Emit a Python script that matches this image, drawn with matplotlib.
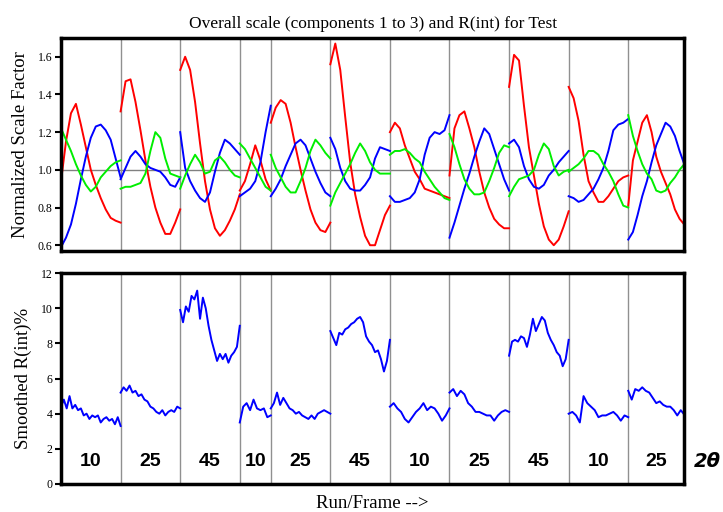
import matplotlib.pyplot as plt
import numpy as np

# frames per run (4th run is a short one)
run_frames = [100, 100, 100, 52, 100, 100, 100, 100, 100, 100, 94]
run_labels = ['10', '25', '45', '10', '25', '45', '10', '25', '45', '10', '25']

# normalized scale factors, component 1 (red), 2 (blue), 3 (green), per run
comp1 = [
    [0.94, 1.15, 1.30, 1.35, 1.24, 1.12, 1.00, 0.92, 0.85, 0.79, 0.745, 0.73, 0.72],
    [1.31, 1.47, 1.48, 1.36, 1.21, 1.05, 0.91, 0.80, 0.72, 0.66, 0.66, 0.72, 0.79],
    [1.53, 1.60, 1.53, 1.36, 1.14, 0.94, 0.79, 0.69, 0.65, 0.68, 0.73, 0.79, 0.87],
    [0.89, 0.94, 1.03, 1.13, 1.05, 0.95, 0.89],
    [1.25, 1.33, 1.37, 1.35, 1.25, 1.12, 1.00, 0.89, 0.79, 0.72, 0.68, 0.67, 0.72],
    [1.56, 1.67, 1.53, 1.28, 1.04, 0.87, 0.75, 0.65, 0.60, 0.60, 0.68, 0.76, 0.81],
    [1.20, 1.25, 1.22, 1.13, 1.06, 0.99, 0.95, 0.90, 0.89, 0.88, 0.87, 0.86, 0.85],
    [0.97, 1.22, 1.29, 1.31, 1.22, 1.12, 0.99, 0.88, 0.80, 0.74, 0.71, 0.69, 0.69],
    [1.44, 1.61, 1.58, 1.34, 1.12, 0.97, 0.82, 0.70, 0.63, 0.60, 0.63, 0.70, 0.78],
    [1.44, 1.38, 1.26, 1.08, 0.94, 0.88, 0.83, 0.83, 0.86, 0.90, 0.94, 0.96, 0.97],
    [0.81, 1.05, 1.15, 1.25, 1.29, 1.20, 1.07, 0.99, 0.93, 0.87, 0.79, 0.74, 0.71],
]
comp2 = [
    [0.59, 0.64, 0.71, 0.82, 0.95, 1.07, 1.17, 1.23, 1.24, 1.21, 1.16, 1.06, 0.96],
    [0.95, 1.01, 1.07, 1.10, 1.07, 1.03, 1.01, 1.00, 0.99, 0.96, 0.92, 0.91, 0.96],
    [1.20, 1.01, 0.94, 0.89, 0.85, 0.83, 0.88, 0.99, 1.09, 1.16, 1.14, 1.11, 1.08],
    [0.86, 0.88, 0.90, 0.94, 1.04, 1.20, 1.34],
    [0.86, 0.90, 0.95, 1.02, 1.08, 1.14, 1.16, 1.13, 1.06, 0.99, 0.93, 0.88, 0.86],
    [1.17, 1.11, 1.01, 0.94, 0.90, 0.89, 0.89, 0.92, 0.96, 1.06, 1.12, 1.11, 1.10],
    [0.86, 0.83, 0.83, 0.84, 0.85, 0.88, 0.95, 1.08, 1.17, 1.20, 1.19, 1.21, 1.29],
    [0.64, 0.72, 0.81, 0.90, 0.98, 1.07, 1.15, 1.22, 1.19, 1.11, 1.03, 0.95, 0.89],
    [1.14, 1.16, 1.12, 1.02, 0.95, 0.91, 0.90, 0.92, 0.97, 1.00, 1.04, 1.07, 1.10],
    [0.86, 0.85, 0.83, 0.84, 0.87, 0.90, 0.95, 1.01, 1.10, 1.21, 1.24, 1.25, 1.27],
    [0.63, 0.67, 0.76, 0.86, 0.94, 1.04, 1.13, 1.19, 1.25, 1.23, 1.18, 1.10, 1.03],
]
comp3 = [
    [1.22, 1.16, 1.10, 1.03, 0.97, 0.92, 0.885, 0.91, 0.96, 0.99, 1.02, 1.04, 1.05],
    [0.90, 0.91, 0.91, 0.92, 0.93, 0.98, 1.10, 1.20, 1.17, 1.06, 0.98, 0.97, 0.96],
    [0.90, 0.97, 1.03, 1.08, 1.04, 0.98, 0.99, 1.05, 1.07, 1.04, 1.00, 0.97, 0.96],
    [1.14, 1.11, 1.06, 1.01, 0.96, 0.91, 0.89],
    [1.08, 1.01, 0.96, 0.91, 0.88, 0.88, 0.94, 1.01, 1.10, 1.16, 1.13, 1.09, 1.06],
    [0.81, 0.88, 0.93, 0.98, 1.03, 1.09, 1.14, 1.10, 1.04, 1.00, 0.98, 0.98, 0.98],
    [1.08, 1.10, 1.10, 1.11, 1.09, 1.06, 1.04, 0.99, 0.95, 0.91, 0.88, 0.85, 0.84],
    [1.19, 1.12, 1.03, 0.95, 0.90, 0.87, 0.87, 0.88, 0.94, 1.01, 1.09, 1.13, 1.12],
    [0.86, 0.91, 0.95, 0.96, 0.97, 1.00, 1.08, 1.14, 1.11, 1.02, 0.97, 0.99, 1.00],
    [0.99, 1.01, 1.03, 1.06, 1.10, 1.10, 1.08, 1.03, 0.99, 0.94, 0.87, 0.81, 0.80],
    [1.29, 1.18, 1.10, 1.03, 0.98, 0.95, 0.89, 0.88, 0.89, 0.93, 0.96, 1.00, 1.03],
]

# smoothed R(int) % per run
rint = [
    [4.4, 4.8, 4.3, 5.0, 4.3, 4.5, 4.2, 4.3, 3.9, 4.0, 3.7, 3.9, 3.8, 3.9, 3.5, 3.7, 3.8, 3.6, 3.7, 3.4, 3.8, 3.3],
    [5.2, 5.5, 5.3, 5.6, 5.2, 5.3, 5.0, 5.1, 4.8, 4.7, 4.4, 4.3, 4.1, 4.0, 4.2, 3.9, 4.1, 4.2, 4.1, 4.4, 4.3],
    [9.9, 9.2, 10.1, 9.8, 10.7, 10.5, 11.0, 9.4, 10.6, 10.0, 9.0, 8.2, 7.6, 7.0, 7.4, 7.1, 7.4, 6.9, 7.3, 7.5, 7.8, 9.0],
    [3.5, 4.4, 4.6, 4.2, 4.8, 4.3, 4.2, 4.3, 3.8, 3.9],
    [4.3, 4.6, 5.2, 4.5, 4.9, 4.6, 4.3, 4.2, 4.0, 4.1, 3.9, 3.8, 3.7, 3.9, 3.7, 4.0, 4.1, 4.2, 4.1, 4.0],
    [8.7, 8.3, 7.9, 8.6, 8.5, 8.8, 8.9, 9.1, 9.2, 9.4, 9.5, 9.2, 8.4, 8.1, 7.9, 7.5, 7.6, 7.1, 6.4, 7.0, 8.2],
    [4.4, 4.6, 4.3, 4.1, 3.7, 3.5, 3.8, 4.1, 4.3, 4.6, 4.2, 4.4, 4.3, 4.0, 3.6, 3.9, 4.3],
    [5.2, 5.4, 5.0, 5.3, 5.1, 4.6, 4.4, 4.1, 4.1, 4.0, 3.9, 3.9, 3.6, 3.9, 4.1, 4.2, 4.1],
    [7.3, 8.1, 8.2, 8.1, 8.4, 8.3, 7.8, 8.5, 9.4, 8.7, 9.1, 9.5, 9.3, 8.6, 8.2, 7.9, 7.5, 7.3, 6.7, 7.1, 8.2],
    [4.0, 4.1, 3.9, 3.5, 5.0, 4.6, 4.4, 4.2, 3.8, 3.9, 3.9, 4.0, 4.1, 3.9, 3.6, 3.9, 3.8],
    [5.3, 4.8, 5.4, 5.3, 5.5, 5.3, 5.2, 4.9, 4.6, 4.7, 4.5, 4.4, 4.4, 4.2, 3.9, 4.2, 3.95],
]

starts = np.concatenate([[0], np.cumsum(run_frames)])
total = starts[-1]

serif = 'Liberation Serif'
plt.rcParams['font.family'] = serif

fig = plt.figure(figsize=(7.23, 5.12), dpi=100)
ax1 = fig.add_axes([0.0844, 0.510, 0.862, 0.416])
ax2 = fig.add_axes([0.0844, 0.0547, 0.862, 0.412])


def draw_runs(ax, series, color):
    for i, vals in enumerate(series):
        x = np.linspace(starts[i], starts[i + 1], len(vals))
        ax.plot(x, vals, color=color, lw=1.4)


draw_runs(ax1, comp1, '#ff0000')
draw_runs(ax1, comp2, '#0000ff')
draw_runs(ax1, comp3, '#00ee00')
draw_runs(ax2, rint, '#0000ff')

ax1.axhline(1.0, color='#808080', lw=1, zorder=0)
for ax in (ax1, ax2):
    for s in starts[1:-1]:
        ax.axvline(s, color='#909090', lw=1, zorder=0)
    ax.set_xlim(0, total)
    ax.set_xticks([])
    for sp in ax.spines.values():
        sp.set_linewidth(2.5)
    ax.tick_params(axis='y', direction='out', length=4, width=1.5, labelsize=8.5, pad=2)

ax1.set_ylim(0.57, 1.70)
ax1.set_yticks([0.6, 0.8, 1.0, 1.2, 1.4, 1.6])
ax1.set_ylabel('Normalized Scale Factor', fontsize=13.5, labelpad=6)
ax1.set_title('Overall scale (components 1 to 3) and R(int) for Test', fontsize=12.5, pad=7)

ax2.set_ylim(0, 12)
ax2.set_yticks([0, 2, 4, 6, 8, 10, 12])
ax2.set_ylabel('Smoothed R(int)%', fontsize=13.5, labelpad=6)
ax2.set_xlabel('Run/Frame -->', fontsize=13.5, labelpad=8)

for i, lab in enumerate(run_labels):
    ax2.text((starts[i] + starts[i + 1]) / 2, 1.3, lab, ha='center', va='center',
             fontsize=14, fontweight='bold', family='Liberation Sans')
ax2.text(1.037, 1.3, '2\u03b8', transform=ax2.get_yaxis_transform(), ha='center', va='center',
         fontsize=14, fontweight='bold', fontstyle='italic', family='DejaVu Sans')

fig.savefig('out.png', dpi=100)
